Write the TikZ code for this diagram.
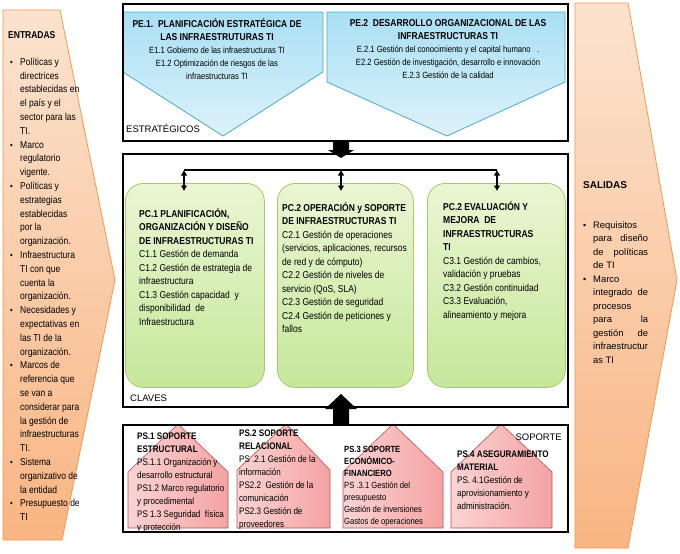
\documentclass[tikz,border=0pt]{standalone}
\usepackage{fontspec}
\setmainfont{Liberation Sans}
\newfontfamily\nar{Liberation Sans}[FakeStretch=0.85]
\usetikzlibrary{arrows.meta}
\definecolor{orline}{HTML}{F79646}
\definecolor{ortop}{HTML}{FCE3CF}
\definecolor{orbot}{HTML}{F9B583}
\definecolor{blline}{HTML}{4BACC6}
\definecolor{bltop}{HTML}{A9DFF4}
\definecolor{blbot}{HTML}{DDF2FA}
\definecolor{grline}{HTML}{A6C96A}
\definecolor{grtop}{HTML}{EAF6D3}
\definecolor{grbot}{HTML}{C6E79A}
\definecolor{pkline}{HTML}{C0504D}
\definecolor{pkl}{HTML}{FBD3D3}
\definecolor{pkr}{HTML}{F4A3A3}
\newcommand{\bl}{\makebox[10pt][l]{\small\textbullet}}
\newcommand{\ct}{\hspace*{10pt}}
\newcommand{\fl}{\rule{0pt}{9pt}}
\newcommand{\jl}[1]{\makebox[55pt][s]{#1}}
\begin{document}
\begin{tikzpicture}[x=1pt,y=-1pt,
  chev/.style={draw=orline, line width=0.8pt, top color=ortop, bottom color=orbot},
  pe/.style={draw=blline, line width=0.8pt, top color=bltop, bottom color=blbot},
  pc/.style={draw=grline, line width=0.8pt, rounded corners=18pt, top color=grtop, bottom color=grbot, minimum height=204pt, anchor=north west, inner sep=0pt},
  ps/.style={draw=pkline, line width=0.6pt, left color=pkl, right color=pkr},
  frame/.style={draw=black, line width=1.6pt, anchor=north west, inner sep=0pt, minimum width=445pt},
  txt/.style={inner sep=0pt, anchor=north west, align=left},
  ctxt/.style={inner sep=0pt, anchor=north, align=center},
  fA/.style={font=\nar\fontsize{10}{13.5}\selectfont},
  fE/.style={font=\nar\fontsize{10}{13.8}\selectfont},
  fB/.style={font=\nar\fontsize{9}{13}\selectfont},
  fC/.style={font=\nar\fontsize{9.5}{13}\selectfont},
  fS/.style={font=\fontsize{9.4}{13.5}\selectfont},
  flab/.style={font=\fontsize{9.5}{12}\selectfont},
  blk/.style={fill=black},
  conn/.style={draw=black, line width=1.5pt},
  dbl/.style={draw=black, line width=1.4pt, {Latex[length=5.5pt,width=7pt]}-{Latex[length=5.5pt,width=7pt]}}
]
\path[use as bounding box, fill=white] (0,0) rectangle (680,554);

% side chevrons
\path[chev] (3,10) -- (60,10) -- (115,280) -- (62,540) -- (3,540) -- cycle;
\path[chev] (575,3) -- (628,3) -- (677,280) -- (628,548) -- (575,548) -- cycle;

% strategic shapes
\path[pe] (123,12) -- (323,12) -- (323,72) -- (223,136) -- (123,72) -- cycle;
\path[pe] (327,12) -- (565,12) -- (565,82) -- (447,136) -- (327,82) -- cycle;

% key process boxes
\node[pc, minimum width=139pt] (pc1) at (125,183) {};
\node[pc, minimum width=136pt] (pc2) at (277,183) {};
\node[pc, minimum width=138pt] (pc3) at (427,183) {};

% support houses
\path[ps] (128,528) -- (128,472) -- (178,424) -- (228,472) -- (228,528) -- cycle;
\path[ps] (237,528) -- (237,470) -- (286,424) -- (330,470) -- (330,528) -- cycle;
\path[ps] (343,528) -- (343,472) -- (393,424) -- (443,472) -- (443,528) -- cycle;
\path[ps] (451,528) -- (451,472) -- (501,424) -- (552,472) -- (552,528) -- cycle;

% frames
\node[frame, minimum height=137pt] (est) at (122,3) {};
\node[frame, minimum height=253pt] (cla) at (122,153) {};
\node[frame, minimum height=107pt] (sop) at (122,424) {};

% block arrows
\path[blk] (333,141) -- (349,141) -- (349,150) -- (354,150) -- (341,158) -- (328,150) -- (333,150) -- cycle;
\path[blk] (333,424) -- (349,424) -- (349,409) -- (357,409) -- (341,394) -- (325,409) -- (333,409) -- cycle;

% connectors
\coordinate (t1) at (184,170);
\coordinate (t2) at (341,170);
\coordinate (t3) at (497,170);
\coordinate (b1) at (184,191);
\coordinate (b2) at (341,191);
\coordinate (b3) at (497,191);
\draw[conn] (t1) -- (t3);
\draw[dbl] (t1) -- (b1);
\draw[dbl] (t2) -- (b2);
\draw[dbl] (t3) -- (b3);

% labels
\node[txt, flab] (lest) at (126,124) {ESTRATÉGICOS};
\node[txt, flab] (lcla) at (130,395) {CLAVES};
\node[inner sep=0pt, anchor=north east, flab] (lsop) at (562,434) {SOPORTE};

% entradas
\node[txt, font=\nar\bfseries\fontsize{10}{13.5}\selectfont] (ent) at (8,29) {\fl ENTRADAS};
\node[txt, fE] (entl) at (10,56) {\fl\bl Políticas y\\ \ct directrices\\ \ct establecidas en\\ \ct el país y el\\ \ct sector para las\\ \ct TI.\\
\bl Marco\\ \ct regulatorio\\ \ct vigente.\\
\bl Políticas y\\ \ct estrategias\\ \ct establecidas\\ \ct por la\\ \ct organización.\\
\bl Infraestructura\\ \ct TI con que\\ \ct cuenta la\\ \ct organización.\\
\bl Necesidades y\\ \ct expectativas en\\ \ct las TI de la\\ \ct organización.\\
\bl Marcos de\\ \ct referencia que\\ \ct se van a\\ \ct considerar para\\ \ct la gestión de\\ \ct infraestructuras\\ \ct TI.\\
\bl Sistema\\ \ct organizativo de\\ \ct la entidad\\
\bl Presupuesto de\\ \ct TI};

% salidas
\node[txt, font=\bfseries\fontsize{10}{13.5}\selectfont] (sal) at (583,179) {\fl SALIDAS};
\node[txt, fS] (sall) at (583,219) {\fl\bl Requisitos\\ \ct\jl{para diseño}\\ \ct\jl{de políticas}\\ \ct de TI\\
\bl Marco\\ \ct\jl{integrado de}\\ \ct procesos\\ \ct\jl{para la}\\ \ct\jl{gestión de}\\ \ct infraestructur\\ \ct as TI};

% strategic texts
\node[ctxt, fB] (pe1) at (217,18) {\fl\textbf{\fontsize{10}{13}\selectfont PE.1.\ \ PLANIFICACIÓN ESTRATÉGICA DE}\\ \textbf{\fontsize{10}{13}\selectfont LAS INFRAESTRUTURAS TI}\\ E1.1 Gobierno de las infraestructuras TI\\ E1.2 Optimización\ de riesgos de las\\ infraestructuras TI};
\node[ctxt, fB] (pe2) at (448,17) {\fl\textbf{\fontsize{10}{12.5}\selectfont PE.2\ \ DESARROLLO ORGANIZACIONAL DE LAS}\\ \textbf{\fontsize{10}{12.5}\selectfont INFRAESTRUCTURAS TI}\\ E.2.1 Gestión del conocimiento y el capital humano\ \ \ .\\ E2.2 Gestión de investigación, desarrollo e innovación\\ E.2.3 Gestión de la calidad};

% key texts
\node[txt, fA] (pc1t) at (139,208) {\fl\textbf{PC.1 PLANIFICACIÓN,}\\ \textbf{ORGANIZACIÓN Y DISEÑO}\\ \textbf{DE INFRAESTRUCTURAS TI}\\ C1.1 Gestión de demanda\\ C1.2 Gestión de estrategia de\\ infraestructura\\ C1.3 Gestión capacidad\ \ y\\ disponibilidad\ \ de\\ Infraestructura};
\node[txt, fA] (pc2t) at (282,202) {\fl\textbf{PC.2 OPERACIÓN y SOPORTE}\\ \textbf{DE INFRAESTRUCTURAS TI}\\ C2.1 Gestión de operaciones\\ (servicios, aplicaciones, recursos\\ de red y de cómputo)\\ C2.2 Gestión de niveles de\\ servicio (QoS, SLA)\\ C2.3 Gestión de seguridad\\ C2.4 Gestión de peticiones y\\ fallos};
\node[txt, fA] (pc3t) at (443,201) {\fl\textbf{PC.2 EVALUACIÓN Y}\\ \textbf{MEJORA\ \ DE}\\ \textbf{INFRAESTRUCTURAS}\\ \textbf{TI}\\ C3.1 Gestión de cambios,\\ validación y pruebas\\ C3.2 Gestión continuidad\\ C3.3 Evaluación,\\ alineamiento y mejora};

% support texts
\node[txt, fC] (ps1t) at (137,430) {\fl\textbf{PS.1 SOPORTE}\\ \textbf{ESTRUCTURAL}\\ PS.1.1 Organización y\\ desarrollo estructural\\ PS1.2 Marco regulatorio\\ y procedimental\\ PS 1.3 Seguridad\ \ física\\ y protección};
\node[txt, fC] (ps2t) at (239,427) {\fl\textbf{PS.2 SOPORTE}\\ \textbf{RELACIONAL}\\ PS .2.1 Gestión de la\\ información\\ PS2.2\ \ Gestión de la\\ comunicación\\ PS2.3 Gestión de\\ proveedores};
\node[txt, font=\nar\fontsize{9}{12}\selectfont] (ps3t) at (344,443) {\fl\textbf{PS.3 SOPORTE}\\ \textbf{ECONÓMICO-}\\ \textbf{FINANCIERO}\\ PS .3.1 Gestión del\\ presupuesto\\ Gestión de inversiones\\ Gastos de operaciones};
\node[txt, fC] (ps4t) at (457,448) {\fl\textbf{PS.4 ASEGURAMIENTO}\\ \textbf{MATERIAL}\\ PS. 4.1Gestión de\\ aprovisionamiento y\\ administración.};
\end{tikzpicture}
\end{document}
